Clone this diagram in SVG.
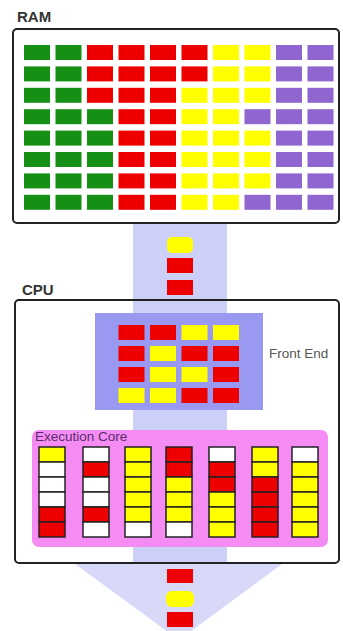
<svg xmlns="http://www.w3.org/2000/svg" width="343" height="631" viewBox="0 0 343 631">
<style>
.g{fill:#159015}.r{fill:#ee0000}.y{fill:#ffff00}.p{fill:#8f66cf}
.box{fill:none;stroke:#222;stroke-width:2}
.lbl{font-family:"Liberation Sans",Arial,sans-serif;font-weight:bold;font-size:15px;fill:#333}
.txt{font-family:"Liberation Sans",Arial,sans-serif;font-size:13.5px}
.cell rect{stroke:#222;stroke-width:1.5}
.w{fill:#ffffff}
</style>
<rect width="343" height="631" fill="#fff"/>
<g id="connectors">
  <rect x="133" y="223" width="94" height="340" fill="#ccd0f8"/>
  <polygon points="75,564 282,564 179,640" fill="#d8d8f8"/>
</g>
<g id="ram">
  <text class="lbl" x="17" y="22">RAM</text>
  <rect class="box" x="13" y="29" width="326" height="194" rx="4"/>
  <g id="ram-cells">
    <rect class="g" x="24" y="45" width="26" height="15"/><rect class="g" x="55.5" y="45" width="26" height="15"/><rect class="r" x="87" y="45" width="26" height="15"/><rect class="r" x="118.5" y="45" width="26" height="15"/><rect class="r" x="150" y="45" width="26" height="15"/><rect class="r" x="181.5" y="45" width="26" height="15"/><rect class="y" x="213" y="45" width="26" height="15"/><rect class="y" x="244.5" y="45" width="26" height="15"/><rect class="p" x="276" y="45" width="26" height="15"/><rect class="p" x="307.5" y="45" width="26" height="15"/>
    <rect class="g" x="24" y="66.4" width="26" height="15"/><rect class="g" x="55.5" y="66.4" width="26" height="15"/><rect class="r" x="87" y="66.4" width="26" height="15"/><rect class="r" x="118.5" y="66.4" width="26" height="15"/><rect class="r" x="150" y="66.4" width="26" height="15"/><rect class="r" x="181.5" y="66.4" width="26" height="15"/><rect class="y" x="213" y="66.4" width="26" height="15"/><rect class="y" x="244.5" y="66.4" width="26" height="15"/><rect class="p" x="276" y="66.4" width="26" height="15"/><rect class="p" x="307.5" y="66.4" width="26" height="15"/>
    <rect class="g" x="24" y="87.8" width="26" height="15"/><rect class="g" x="55.5" y="87.8" width="26" height="15"/><rect class="r" x="87" y="87.8" width="26" height="15"/><rect class="r" x="118.5" y="87.8" width="26" height="15"/><rect class="r" x="150" y="87.8" width="26" height="15"/><rect class="y" x="181.5" y="87.8" width="26" height="15"/><rect class="y" x="213" y="87.8" width="26" height="15"/><rect class="y" x="244.5" y="87.8" width="26" height="15"/><rect class="p" x="276" y="87.8" width="26" height="15"/><rect class="p" x="307.5" y="87.8" width="26" height="15"/>
    <rect class="g" x="24" y="109.2" width="26" height="15"/><rect class="g" x="55.5" y="109.2" width="26" height="15"/><rect class="g" x="87" y="109.2" width="26" height="15"/><rect class="r" x="118.5" y="109.2" width="26" height="15"/><rect class="r" x="150" y="109.2" width="26" height="15"/><rect class="y" x="181.5" y="109.2" width="26" height="15"/><rect class="y" x="213" y="109.2" width="26" height="15"/><rect class="p" x="244.5" y="109.2" width="26" height="15"/><rect class="p" x="276" y="109.2" width="26" height="15"/><rect class="p" x="307.5" y="109.2" width="26" height="15"/>
    <rect class="g" x="24" y="130.6" width="26" height="15"/><rect class="g" x="55.5" y="130.6" width="26" height="15"/><rect class="g" x="87" y="130.6" width="26" height="15"/><rect class="r" x="118.5" y="130.6" width="26" height="15"/><rect class="r" x="150" y="130.6" width="26" height="15"/><rect class="y" x="181.5" y="130.6" width="26" height="15"/><rect class="y" x="213" y="130.6" width="26" height="15"/><rect class="y" x="244.5" y="130.6" width="26" height="15"/><rect class="p" x="276" y="130.6" width="26" height="15"/><rect class="p" x="307.5" y="130.6" width="26" height="15"/>
    <rect class="g" x="24" y="152" width="26" height="15"/><rect class="g" x="55.5" y="152" width="26" height="15"/><rect class="g" x="87" y="152" width="26" height="15"/><rect class="r" x="118.5" y="152" width="26" height="15"/><rect class="r" x="150" y="152" width="26" height="15"/><rect class="y" x="181.5" y="152" width="26" height="15"/><rect class="y" x="213" y="152" width="26" height="15"/><rect class="y" x="244.5" y="152" width="26" height="15"/><rect class="p" x="276" y="152" width="26" height="15"/><rect class="p" x="307.5" y="152" width="26" height="15"/>
    <rect class="g" x="24" y="173.4" width="26" height="15"/><rect class="g" x="55.5" y="173.4" width="26" height="15"/><rect class="g" x="87" y="173.4" width="26" height="15"/><rect class="r" x="118.5" y="173.4" width="26" height="15"/><rect class="r" x="150" y="173.4" width="26" height="15"/><rect class="y" x="181.5" y="173.4" width="26" height="15"/><rect class="y" x="213" y="173.4" width="26" height="15"/><rect class="y" x="244.5" y="173.4" width="26" height="15"/><rect class="p" x="276" y="173.4" width="26" height="15"/><rect class="p" x="307.5" y="173.4" width="26" height="15"/>
    <rect class="g" x="24" y="194.8" width="26" height="15"/><rect class="g" x="55.5" y="194.8" width="26" height="15"/><rect class="g" x="87" y="194.8" width="26" height="15"/><rect class="r" x="118.5" y="194.8" width="26" height="15"/><rect class="r" x="150" y="194.8" width="26" height="15"/><rect class="y" x="181.5" y="194.8" width="26" height="15"/><rect class="y" x="213" y="194.8" width="26" height="15"/><rect class="p" x="244.5" y="194.8" width="26" height="15"/><rect class="p" x="276" y="194.8" width="26" height="15"/><rect class="p" x="307.5" y="194.8" width="26" height="15"/>
  </g>
</g>
<g id="transfer-in">
  <rect class="y" x="167" y="237" width="26" height="16" rx="5"/>
  <rect class="r" x="167" y="258" width="26" height="15"/>
  <rect class="r" x="167" y="280" width="26" height="15"/>
</g>
<g id="cpu">
  <text class="lbl" x="22" y="295">CPU</text>
  <rect class="box" x="15" y="300" width="324" height="263" rx="4"/>
</g>
<g id="front-end">
  <rect x="95" y="313" width="168" height="97" fill="#9999f2"/>
  <rect class="r" x="118.5" y="325" width="26" height="15"/><rect class="r" x="150" y="325" width="26" height="15"/><rect class="y" x="181.5" y="325" width="26" height="15"/><rect class="y" x="213" y="325" width="26" height="15"/>
  <rect class="r" x="118.5" y="346" width="26" height="15"/><rect class="y" x="150" y="346" width="26" height="15"/><rect class="r" x="181.5" y="346" width="26" height="15"/><rect class="r" x="213" y="346" width="26" height="15"/>
  <rect class="r" x="118.5" y="367" width="26" height="15"/><rect class="y" x="150" y="367" width="26" height="15"/><rect class="y" x="181.5" y="367" width="26" height="15"/><rect class="r" x="213" y="367" width="26" height="15"/>
  <rect class="y" x="118.5" y="388" width="26" height="15"/><rect class="y" x="150" y="388" width="26" height="15"/><rect class="r" x="181.5" y="388" width="26" height="15"/><rect class="r" x="213" y="388" width="26" height="15"/>
  <text class="txt" x="269" y="358" fill="#555">Front End</text>
</g>
<g id="execution-core">
  <rect x="32" y="430" width="296" height="117" rx="7" fill="#f48cf4"/>
  <text class="txt" x="35" y="441" fill="#5a2d6a">Execution Core</text>
  <g class="cell">
    <rect class="y" x="39" y="447" width="26" height="15"/><rect class="w" x="39" y="462" width="26" height="15"/><rect class="w" x="39" y="477" width="26" height="15"/><rect class="w" x="39" y="492" width="26" height="15"/><rect class="r" x="39" y="507" width="26" height="15"/><rect class="r" x="39" y="522" width="26" height="15"/>
    <rect class="w" x="83" y="447" width="26" height="15"/><rect class="r" x="83" y="462" width="26" height="15"/><rect class="w" x="83" y="477" width="26" height="15"/><rect class="w" x="83" y="492" width="26" height="15"/><rect class="r" x="83" y="507" width="26" height="15"/><rect class="w" x="83" y="522" width="26" height="15"/>
    <rect class="y" x="125" y="447" width="26" height="15"/><rect class="y" x="125" y="462" width="26" height="15"/><rect class="y" x="125" y="477" width="26" height="15"/><rect class="y" x="125" y="492" width="26" height="15"/><rect class="y" x="125" y="507" width="26" height="15"/><rect class="w" x="125" y="522" width="26" height="15"/>
    <rect class="r" x="166" y="447" width="26" height="15"/><rect class="r" x="166" y="462" width="26" height="15"/><rect class="y" x="166" y="477" width="26" height="15"/><rect class="y" x="166" y="492" width="26" height="15"/><rect class="y" x="166" y="507" width="26" height="15"/><rect class="w" x="166" y="522" width="26" height="15"/>
    <rect class="w" x="209" y="447" width="26" height="15"/><rect class="r" x="209" y="462" width="26" height="15"/><rect class="r" x="209" y="477" width="26" height="15"/><rect class="y" x="209" y="492" width="26" height="15"/><rect class="y" x="209" y="507" width="26" height="15"/><rect class="y" x="209" y="522" width="26" height="15"/>
    <rect class="y" x="252" y="447" width="26" height="15"/><rect class="y" x="252" y="462" width="26" height="15"/><rect class="r" x="252" y="477" width="26" height="15"/><rect class="r" x="252" y="492" width="26" height="15"/><rect class="r" x="252" y="507" width="26" height="15"/><rect class="r" x="252" y="522" width="26" height="15"/>
    <rect class="w" x="292" y="447" width="26" height="15"/><rect class="y" x="292" y="462" width="26" height="15"/><rect class="y" x="292" y="477" width="26" height="15"/><rect class="y" x="292" y="492" width="26" height="15"/><rect class="y" x="292" y="507" width="26" height="15"/><rect class="y" x="292" y="522" width="26" height="15"/>
  </g>
</g>
<g id="transfer-out">
  <rect class="r" x="167" y="569" width="26" height="14"/>
  <rect class="y" x="166" y="591" width="28" height="16" rx="6"/>
  <rect class="r" x="167" y="612" width="26" height="15"/>
</g>
</svg>
